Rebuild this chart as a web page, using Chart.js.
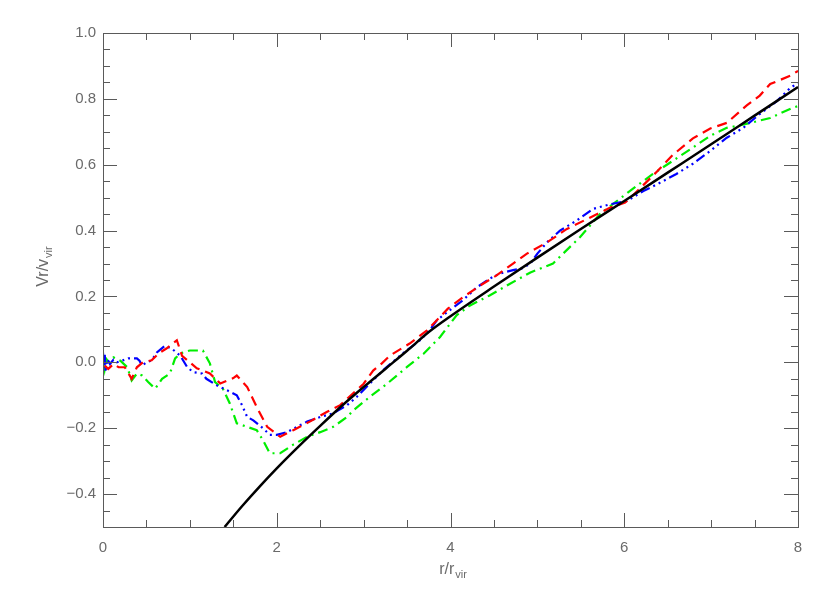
<!DOCTYPE html>
<html>
<head>
<meta charset="utf-8">
<script src="https://cdn.jsdelivr.net/npm/chart.js@4/dist/chart.umd.min.js"></script>
<style>
  body { margin: 0; background: #fff; }
  #wrap { width: 830px; height: 593px; }
</style>
</head>
<body>
<div id="wrap"><canvas id="vrChart" width="830" height="593"></canvas></div>
<script>
// axis ticks
var xTicks = [0, 2, 4, 6, 8];
var yTicks = [-0.4, -0.2, 0.0, 0.2, 0.4, 0.6, 0.8, 1.0];

// red dashed
var redX = [0.02, 0.06, 0.12, 0.18, 0.25, 0.33, 0.39, 0.46, 0.56, 0.64, 0.73, 0.85, 0.91, 1.08, 1.23, 1.35, 1.50, 1.54, 1.66, 1.77, 1.89, 2.04, 2.19, 2.38, 2.58, 2.73, 3.0, 3.11, 3.21, 3.30, 3.53, 3.73, 3.84, 3.97, 4.14, 4.34, 4.53, 4.72, 4.88, 5.11, 5.34, 5.61, 5.84, 6.01, 6.15, 6.38, 6.56, 6.79, 6.99, 7.18, 7.41, 7.56, 7.68, 7.91, 8.0];
var redY = [-0.01, -0.02, -0.005, -0.015, -0.015, -0.05, -0.015, 0.0, 0.006, 0.027, 0.042, 0.067, 0.02, -0.018, -0.034, -0.064, -0.048, -0.04, -0.075, -0.136, -0.196, -0.226, -0.206, -0.18, -0.15, -0.13, -0.065, -0.025, -0.003, 0.02, 0.057, 0.097, 0.127, 0.163, 0.197, 0.233, 0.264, 0.30, 0.33, 0.364, 0.405, 0.44, 0.47, 0.485, 0.52, 0.58, 0.63, 0.68, 0.71, 0.727, 0.78, 0.81, 0.845, 0.87, 0.885];

// blue dash-dot-dot-dot
var blueX = [0, 0.01, 0.02, 0.03, 0.05, 0.08, 0.12, 0.16, 0.22, 0.29, 0.39, 0.42, 0.45, 0.5, 0.56, 0.62, 0.71, 0.79, 0.89, 0.97, 1.04, 1.14, 1.19, 1.31, 1.43, 1.54, 1.60, 1.66, 1.73, 1.84, 1.92, 2.0, 2.12, 2.23, 2.35, 2.5, 2.65, 2.81, 2.92, 3.07, 3.22, 3.45, 3.65, 3.76, 3.84, 3.99, 4.14, 4.3, 4.45, 4.57, 4.72, 4.82, 4.92, 5.0, 5.11, 5.26, 5.45, 5.64, 5.84, 6.03, 6.22, 6.41, 6.6, 6.79, 6.99, 7.18, 7.37, 7.56, 7.76, 7.91, 8.0];
var blueY = [0.03, -0.02, 0.025, -0.03, 0.01, -0.005, 0.008, 0.0, 0.005, 0.012, 0.012, 0.005, -0.01, 0.0, 0.006, 0.03, 0.05, 0.042, 0.02, -0.015, -0.03, -0.034, -0.05, -0.07, -0.085, -0.1, -0.13, -0.166, -0.176, -0.2, -0.22, -0.22, -0.212, -0.196, -0.18, -0.166, -0.155, -0.13, -0.105, -0.065, -0.025, 0.027, 0.067, 0.097, 0.127, 0.158, 0.188, 0.227, 0.254, 0.27, 0.28, 0.285, 0.30, 0.33, 0.364, 0.40, 0.43, 0.466, 0.48, 0.49, 0.52, 0.545, 0.572, 0.603, 0.642, 0.682, 0.712, 0.754, 0.794, 0.833, 0.848];

// green dash-dot
var greenX = [0, 0.01, 0.02, 0.04, 0.07, 0.12, 0.2, 0.28, 0.33, 0.39, 0.45, 0.52, 0.6, 0.68, 0.77, 0.83, 0.89, 1.0, 1.15, 1.23, 1.29, 1.38, 1.46, 1.54, 1.66, 1.77, 1.84, 1.92, 2.04, 2.19, 2.35, 2.5, 2.65, 2.81, 2.88, 3.07, 3.27, 3.5, 3.69, 3.88, 4.07, 4.22, 4.45, 4.68, 4.92, 5.18, 5.49, 5.72, 5.95, 6.15, 6.33, 6.56, 6.79, 6.99, 7.18, 7.3, 7.45, 7.68, 7.94, 8.0];
var greenY = [-0.03, 0.0, -0.02, 0.01, 0.0, 0.015, 0.005, -0.015, -0.055, -0.034, -0.04, -0.06, -0.08, -0.05, -0.034, 0.012, 0.027, 0.036, 0.036, -0.003, -0.06, -0.08, -0.125, -0.185, -0.196, -0.206, -0.236, -0.276, -0.276, -0.25, -0.226, -0.212, -0.196, -0.166, -0.146, -0.105, -0.065, -0.014, 0.026, 0.077, 0.143, 0.172, 0.203, 0.238, 0.273, 0.30, 0.38, 0.45, 0.497, 0.537, 0.572, 0.612, 0.652, 0.688, 0.712, 0.718, 0.727, 0.742, 0.773, 0.778];

// black solid model curve
var blackX = [1.40, 1.6, 1.8, 2.0, 2.25, 2.5, 2.75, 3.0, 3.25, 3.5, 3.75, 4.0, 4.5, 5.0, 5.5, 6.0, 6.5, 7.0, 7.5, 8.0];
var blackY = [-0.50, -0.437, -0.378, -0.322, -0.256, -0.193, -0.132, -0.075, -0.02, 0.035, 0.092, 0.14, 0.23, 0.318, 0.405, 0.49, 0.576, 0.662, 0.749, 0.836];

var axisColor = '#5a5a5a';
var textColor = '#6a6a6a';
var labelFont = { family: 'Liberation Sans', size: 15 };

function pts(xs, ys) {
  return xs.map(function(v, i) { return { x: v, y: ys[i] }; });
}

// IDL style box with inward ticks, plus axis titles with subscripts
var idlFrame = {
  id: 'idlFrame',
  afterDraw: function(chart) {
    var ctx = chart.ctx, a = chart.chartArea;
    var xs = chart.scales.x, ys = chart.scales.y;
    ctx.save();
    ctx.strokeStyle = axisColor;
    ctx.lineWidth = 1;
    ctx.strokeRect(Math.round(a.left) + 0.5, Math.round(a.top) + 0.5,
                   Math.round(a.right - a.left), Math.round(a.bottom - a.top));
    ctx.beginPath();
    for (var i = 0; i <= 16; i++) {
      var xv = i * 0.5;
      var px = Math.round(xs.getPixelForValue(xv)) + 0.5;
      var len = (i % 4 === 0) ? 14 : 7;
      ctx.moveTo(px, a.bottom); ctx.lineTo(px, a.bottom - len);
      ctx.moveTo(px, a.top); ctx.lineTo(px, a.top + len);
    }
    for (var j = 0; j <= 30; j++) {
      var yv = -0.5 + j * 0.05;
      var py = Math.round(ys.getPixelForValue(yv)) + 0.5;
      var major = yTicks.some(function(t) { return Math.abs(t - yv) < 1e-6; });
      var l2 = major ? 14 : 7;
      ctx.moveTo(a.left, py); ctx.lineTo(a.left + l2, py);
      ctx.moveTo(a.right, py); ctx.lineTo(a.right - l2, py);
    }
    ctx.stroke();

    ctx.fillStyle = textColor;
    ctx.textBaseline = 'alphabetic';
    // x title
    var main = '16px "Liberation Sans"', sub = '11px "Liberation Sans"';
    ctx.font = main;
    var w1 = ctx.measureText('r/r').width;
    ctx.font = sub;
    var w2 = ctx.measureText('vir').width;
    var cx = (a.left + a.right) / 2 + 2;
    var x0 = cx - (w1 + w2) / 2;
    ctx.font = main;
    ctx.textAlign = 'left';
    ctx.fillText('r/r', x0, 574);
    ctx.font = sub;
    ctx.fillText('vir', x0 + w1 + 1, 578);

    // y title
    ctx.save();
    ctx.translate(48, 267);
    ctx.rotate(-Math.PI / 2);
    ctx.font = main;
    var w3 = ctx.measureText('Vr/v').width;
    ctx.font = sub;
    var w4 = ctx.measureText('vir').width;
    var y0 = -(w3 + w4) / 2;
    ctx.font = main;
    ctx.fillText('Vr/v', y0, 0);
    ctx.font = sub;
    ctx.fillText('vir', y0 + w3 + 1, 4);
    ctx.restore();
    ctx.restore();
  }
};

new Chart(document.getElementById('vrChart'), {
  type: 'line',
  data: {
    datasets: [
      {
        data: pts(blackX, blackY),
        borderColor: '#000000',
        borderWidth: 2.5,
        cubicInterpolationMode: 'monotone',
        pointRadius: 0
      },
      {
        data: pts(redX, redY),
        borderColor: '#ff0000',
        borderWidth: 2.2,
        borderDash: [10, 6],
        tension: 0,
        pointRadius: 0
      },
      {
        data: pts(blueX, blueY),
        borderColor: '#0000ff',
        borderWidth: 2.2,
        borderDash: [10, 4, 2, 4, 2, 4, 2, 4],
        tension: 0,
        pointRadius: 0
      },
      {
        data: pts(greenX, greenY),
        borderColor: '#00ee00',
        borderWidth: 2.2,
        borderDash: [10, 5, 2, 5],
        tension: 0,
        pointRadius: 0
      }
    ]
  },
  options: {
    responsive: false,
    animation: false,
    layout: { padding: { top: 33, right: 32, left: 0, bottom: 0 } },
    plugins: { legend: { display: false }, tooltip: { enabled: false } },
    scales: {
      x: {
        type: 'linear',
        min: 0,
        max: 8,
        afterBuildTicks: function(scale) {
          scale.ticks = xTicks.map(function(v) { return { value: v }; });
        },
        afterFit: function(scale) { scale.height = 66; },
        grid: { display: false, drawTicks: false },
        border: { display: false },
        ticks: {
          color: textColor,
          font: labelFont,
          padding: 12,
          maxRotation: 0,
          callback: function(v) { return String(v); }
        }
      },
      y: {
        type: 'linear',
        min: -0.5,
        max: 1.0,
        afterBuildTicks: function(scale) {
          scale.ticks = yTicks.map(function(v) { return { value: v }; });
        },
        afterFit: function(scale) { scale.width = 103; },
        grid: { display: false, drawTicks: false },
        border: { display: false },
        ticks: {
          color: textColor,
          font: labelFont,
          padding: 7,
          callback: function(v) {
            var s = Math.abs(v).toFixed(1);
            return v < -1e-9 ? '\u2212' + s : s;
          }
        }
      }
    }
  },
  plugins: [idlFrame]
});
</script>
</body>
</html>
